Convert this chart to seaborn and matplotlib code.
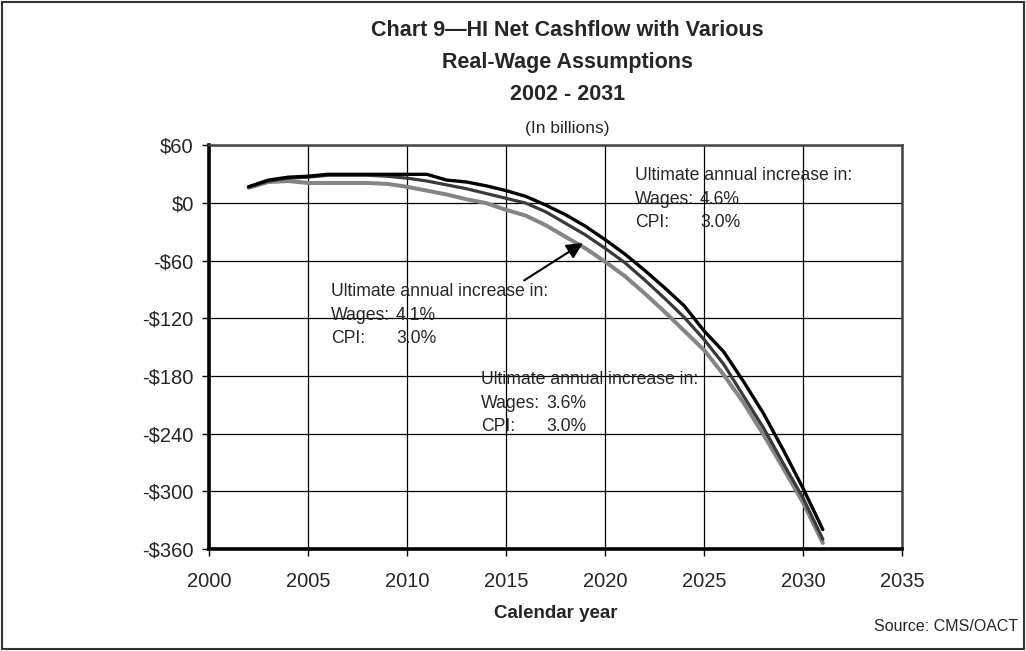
import matplotlib
matplotlib.use("Agg")
import matplotlib.pyplot as plt
from matplotlib.patches import Rectangle
from matplotlib.ticker import FuncFormatter
import pandas as pd
import seaborn as sns


YEARS = list(range(2002, 2032))

# HI net cashflow, billions, by ultimate real-wage assumption
WAGES_46 = [17, 24, 27, 28, 30, 30, 30, 30, 30, 30, 24, 22, 18, 13, 7,
            -2, -12, -24, -38, -53, -70, -88, -107, -133, -155, -186, -219, -257, -297, -340]
WAGES_41 = [17, 23, 26, 27, 29, 29, 29, 28, 26, 23, 19, 15, 10, 5, 0,
            -9, -21, -33, -47, -62, -80, -99, -119, -142, -168, -201, -234, -271, -307, -350]
WAGES_36 = [16, 22, 23, 21, 21, 21, 21, 20, 17, 13, 9, 4, 0, -7, -13,
            -23, -35, -47, -61, -76, -94, -113, -133, -153, -179, -208, -241, -276, -312, -354]

WAGE_LABELS = ["3.6%", "4.1%", "4.6%"]
CPI_LABEL = "3.0%"
Y_TICKS = [60, 0, -60, -120, -180, -240, -300, -360]
X_TICKS = [2000, 2005, 2010, 2015, 2020, 2025, 2030, 2035]

df = pd.DataFrame({
    "year": YEARS * 3,
    "value": WAGES_36 + WAGES_41 + WAGES_46,
    "series": [s for s in WAGE_LABELS for _ in YEARS],
})

sns.set_style("white")
plt.rcParams["font.family"] = ["Liberation Sans", "DejaVu Sans"]

STYLE = {"3.6%": ("#858585", 2.9), "4.1%": ("#3a3a3a", 2.3), "4.6%": ("#000000", 2.4)}


@FuncFormatter
def dollars(x, pos):
    return f"${x:.0f}" if x >= 0 else f"-${-x:.0f}"


fig = plt.figure(figsize=(10.26, 6.51), dpi=100)
ax = fig.add_axes([0.2037, 0.157, 0.6755, 0.6195])

for name in WAGE_LABELS:
    color, lw = STYLE[name]
    sns.lineplot(data=df[df["series"] == name], x="year", y="value",
                 color=color, linewidth=lw, ax=ax)

ax.set_xlim(2000, 2035)
ax.set_ylim(-360, 60)
ax.set_xticks(X_TICKS)
ax.set_yticks(Y_TICKS)
ax.yaxis.set_major_formatter(dollars)
ax.grid(True, color="black", linewidth=0.9)
ax.tick_params(axis="both", direction="out", length=5, width=1, color="black",
               labelsize=14.5, bottom=True, left=True)
ax.tick_params(axis="x", pad=12)
ax.tick_params(axis="y", pad=6)
ax.set_xlabel("Calendar year", fontsize=13.5, fontweight="bold", labelpad=10)
ax.set_ylabel("")

for side in ["left", "bottom"]:
    ax.spines[side].set_linewidth(2.6)
    ax.spines[side].set_color("black")
for side in ["top", "right"]:
    ax.spines[side].set_linewidth(1.8)
    ax.spines[side].set_color("#444444")

# scenario notes
notes = [("4.6%", 2021.5, 28.3), ("4.1%", 2006.15, -92.2), ("3.6%", 2013.72, -184.1)]
for wage, x0, y0 in notes:
    step = 24.5
    ax.text(x0, y0, "Ultimate annual increase in:", fontsize=12.7, va="center")
    ax.text(x0, y0 - step, "Wages:", fontsize=12.7, va="center")
    ax.text(x0 + 3.3, y0 - step, wage, fontsize=12.7, va="center")
    ax.text(x0, y0 - 2 * step, "CPI:", fontsize=12.7, va="center")
    ax.text(x0 + 3.3, y0 - 2 * step, CPI_LABEL, fontsize=12.7, va="center")

ax.annotate("", xy=(2019.0, -40), xytext=(2015.8, -82),
            arrowprops=dict(arrowstyle="-|>", color="black", lw=1.5, mutation_scale=24))

fig.text(0.553, 0.953, "Chart 9\u2014HI Net Cashflow with Various", ha="center", va="center",
         fontsize=15.5, fontweight="bold")
fig.text(0.553, 0.904, "Real-Wage Assumptions", ha="center", va="center",
         fontsize=15.5, fontweight="bold")
fig.text(0.553, 0.855, "2002 - 2031", ha="center", va="center",
         fontsize=15.5, fontweight="bold")
fig.text(0.553, 0.803, "(In billions)", ha="center", va="center", fontsize=12.5)
fig.text(0.992, 0.037, "Source: CMS/OACT", ha="right", va="center", fontsize=11.5)

fig.patches.append(Rectangle((0.002, 0.003), 0.996, 0.994, transform=fig.transFigure,
                             fill=False, edgecolor="#333333", linewidth=1.5))

fig.savefig("out.png", dpi=100)
